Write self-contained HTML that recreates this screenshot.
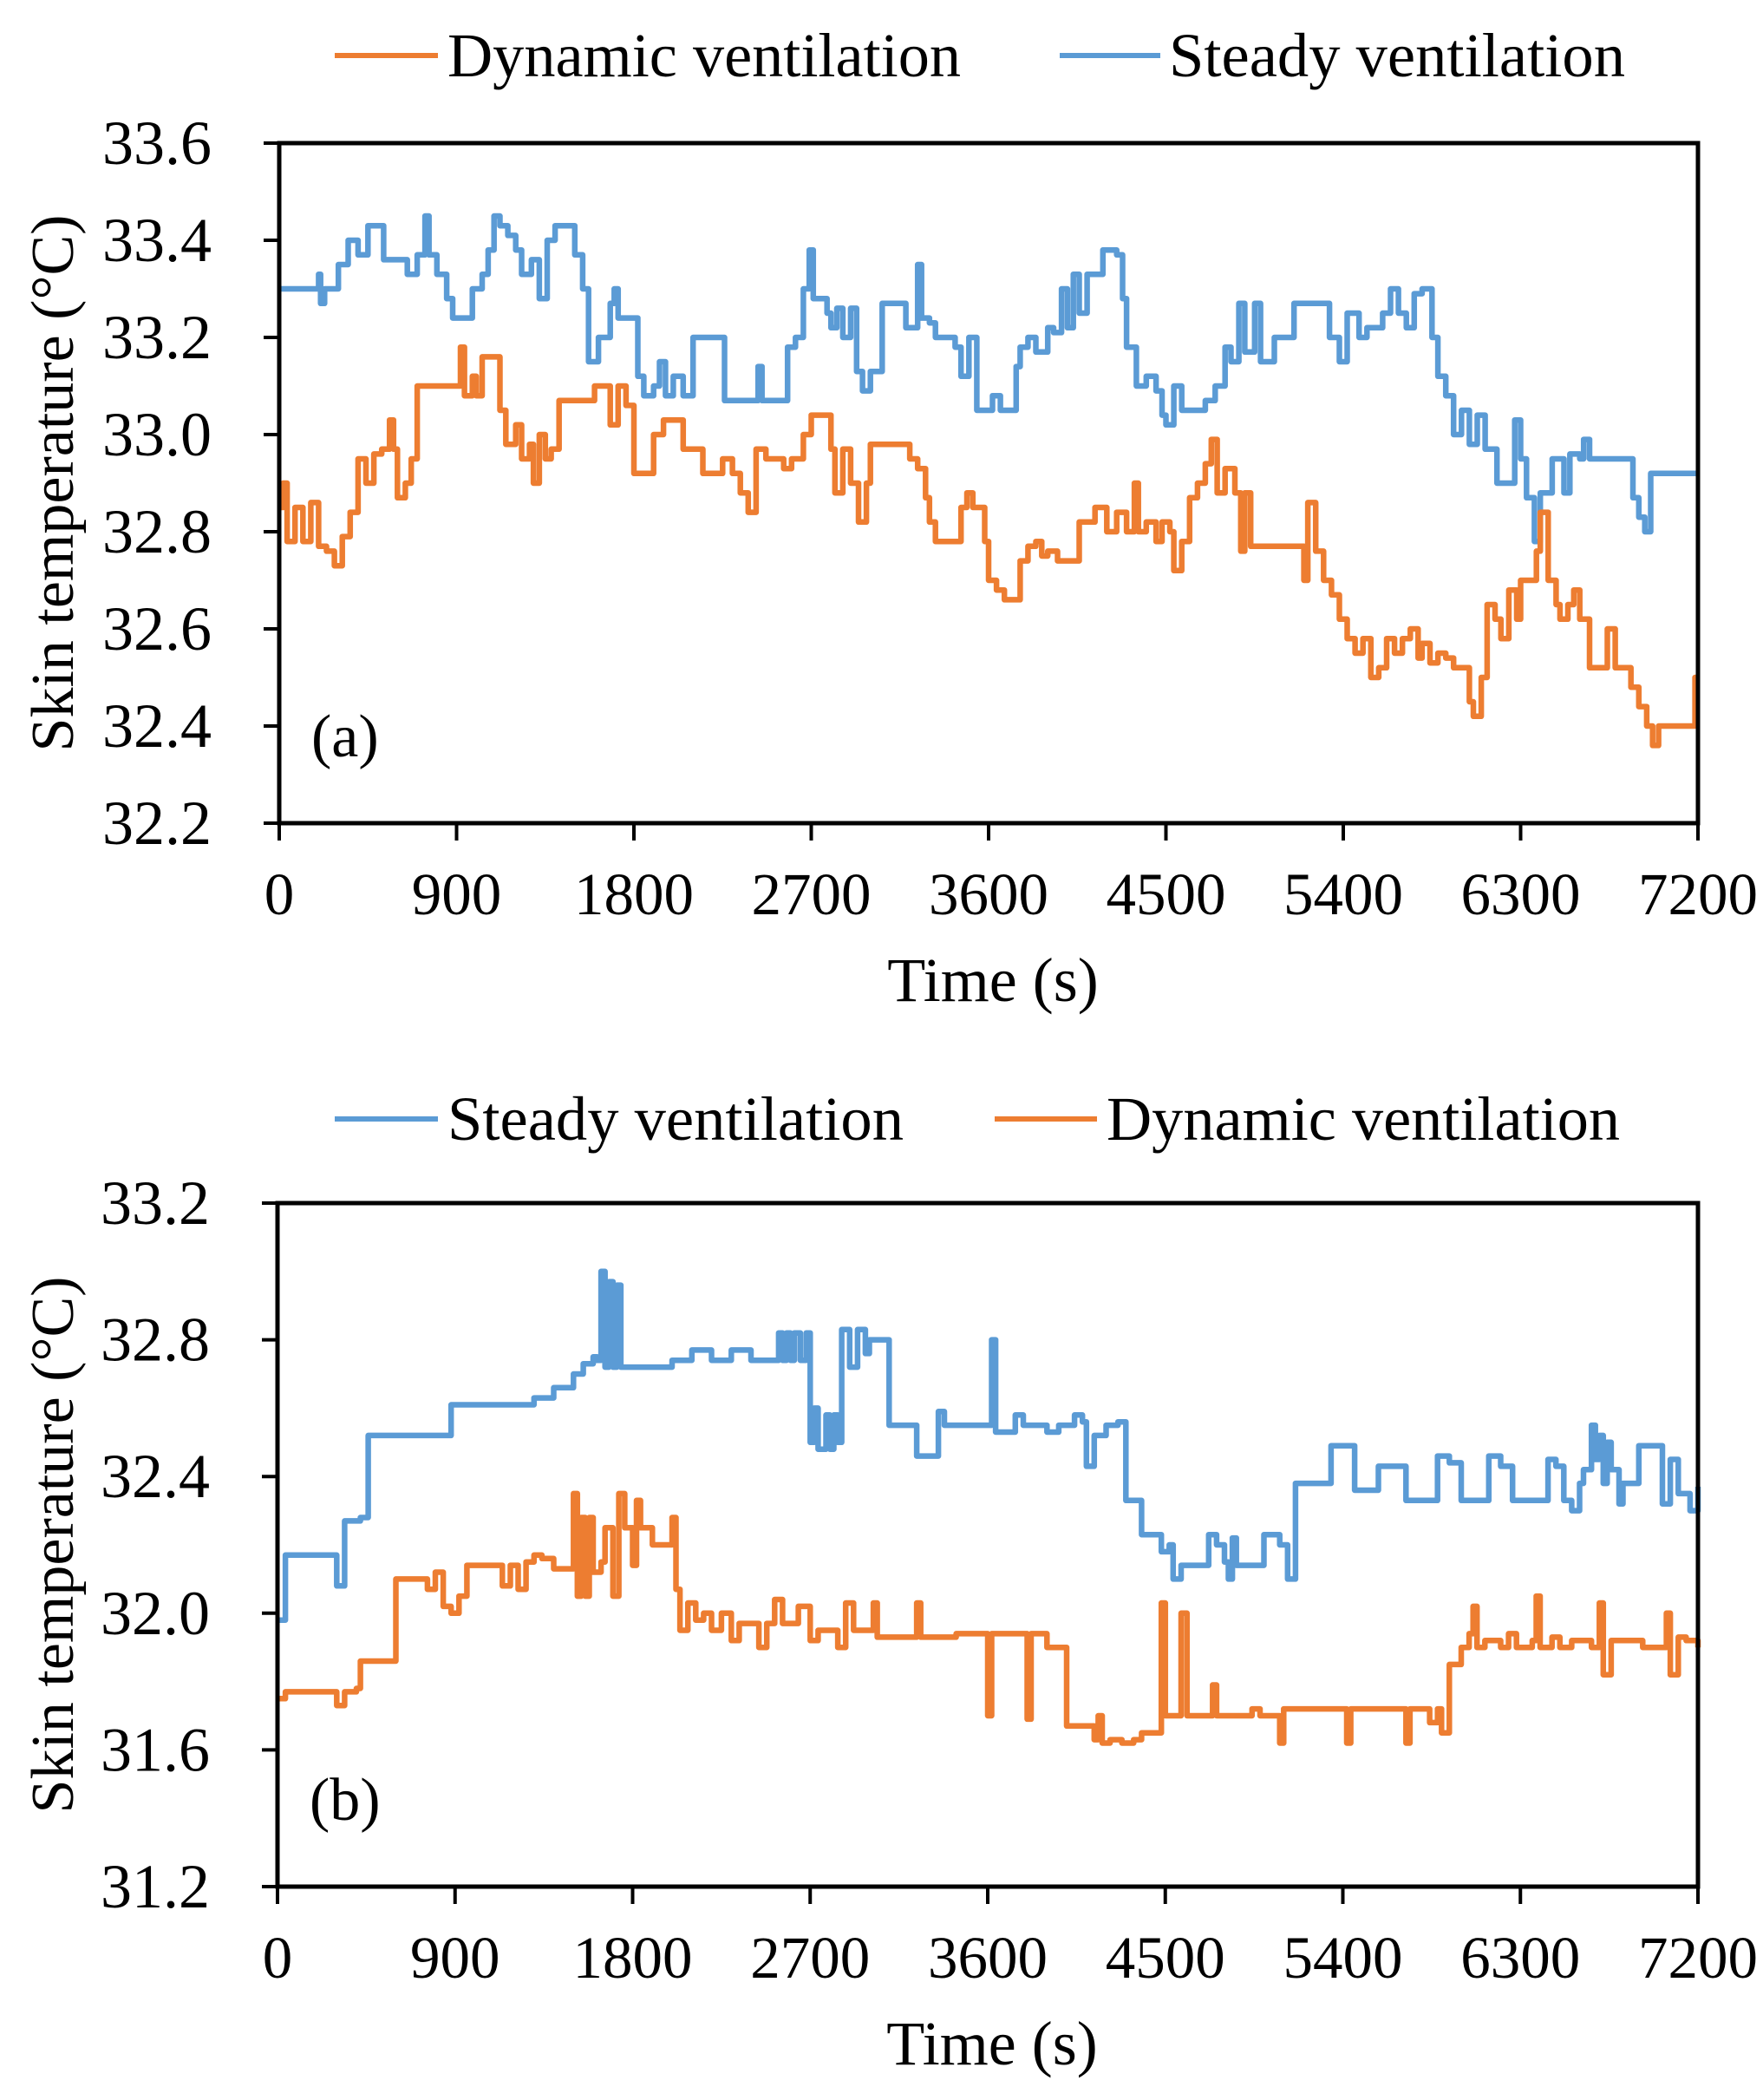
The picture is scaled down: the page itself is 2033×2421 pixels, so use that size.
<!DOCTYPE html>
<html><head><meta charset="utf-8">
<style>
html,body{margin:0;padding:0;background:#fff;}
svg{display:block;font-family:"Liberation Serif",serif;}
</style></head>
<body>
<svg id="chart" width="2033" height="2421" viewBox="0 0 2033 2421" xmlns="http://www.w3.org/2000/svg">
</svg>
<script>
const xTicks = [0,900,1800,2700,3600,4500,5400,6300,7200];
const yTicksA = [32.2,32.4,32.6,32.8,33.0,33.2,33.4,33.6];
const yTicksB = [31.2,31.6,32.0,32.4,32.8,33.2];

// [time (s), temperature (°C)]
const aSteady = [[0,33.30],[200,33.33],[210,33.27],[230,33.30],[300,33.35],[350,33.40],[400,33.37],[450,33.43],[530,33.36],[650,33.33],[700,33.37],[740,33.45],[760,33.37],[800,33.33],[850,33.28],[880,33.24],[980,33.30],[1030,33.33],[1060,33.38],[1090,33.45],[1120,33.43],[1160,33.41],[1200,33.38],[1230,33.33],[1280,33.36],[1320,33.28],[1360,33.40],[1400,33.43],[1500,33.37],[1540,33.30],[1570,33.15],[1620,33.20],[1680,33.27],[1700,33.30],[1720,33.24],[1820,33.12],[1850,33.08],[1900,33.10],[1930,33.15],[1960,33.08],[2000,33.12],[2050,33.08],[2100,33.20],[2260,33.07],[2430,33.14],[2450,33.07],[2580,33.18],[2620,33.20],[2660,33.30],[2690,33.38],[2710,33.28],[2780,33.25],[2800,33.22],[2830,33.26],[2860,33.20],[2900,33.26],[2930,33.13],[2960,33.09],[3000,33.13],[3060,33.27],[3180,33.22],[3240,33.35],[3260,33.24],[3300,33.23],[3330,33.20],[3430,33.18],[3460,33.12],[3500,33.20],[3540,33.05],[3620,33.08],[3660,33.05],[3740,33.14],[3760,33.18],[3800,33.20],[3840,33.17],[3900,33.22],[3930,33.21],[3970,33.30],[4000,33.22],[4030,33.33],[4060,33.25],[4100,33.33],[4180,33.38],[4250,33.37],[4280,33.28],[4300,33.18],[4350,33.10],[4400,33.12],[4450,33.09],[4480,33.04],[4500,33.02],[4540,33.10],[4580,33.05],[4700,33.07],[4750,33.10],[4800,33.18],[4830,33.15],[4870,33.27],[4900,33.17],[4950,33.27],[4980,33.15],[5050,33.20],[5150,33.27],[5330,33.20],[5380,33.15],[5420,33.25],[5480,33.20],[5520,33.22],[5600,33.25],[5640,33.30],[5680,33.25],[5720,33.22],[5760,33.29],[5800,33.30],[5850,33.20],[5880,33.12],[5920,33.08],[5960,33.00],[6000,33.05],[6040,32.98],[6080,33.04],[6120,32.97],[6180,32.90],[6270,33.03],[6300,32.95],[6330,32.87],[6370,32.78],[6400,32.88],[6460,32.95],[6520,32.88],[6550,32.96],[6600,32.95],[6620,32.99],[6650,32.95],[6870,32.87],[6900,32.83],[6930,32.80],[6960,32.92],[7200,32.92]];

const aDynamic = [[0,32.85],[20,32.90],[40,32.78],[80,32.85],[120,32.78],[160,32.86],[200,32.77],[240,32.76],[280,32.73],[320,32.79],[360,32.84],[400,32.95],[440,32.90],[480,32.96],[520,32.97],[560,33.03],[580,32.97],[600,32.87],[640,32.90],[670,32.95],[700,33.10],[920,33.18],[940,33.08],[980,33.12],[1000,33.08],[1030,33.16],[1120,33.05],[1150,32.98],[1200,33.02],[1230,32.95],[1270,32.98],[1290,32.90],[1320,33.00],[1350,32.95],[1380,32.97],[1420,33.07],[1600,33.10],[1680,33.02],[1720,33.10],[1760,33.06],[1800,32.92],[1900,33.00],[1950,33.03],[2050,32.97],[2150,32.92],[2250,32.95],[2300,32.92],[2340,32.88],[2380,32.84],[2420,32.97],[2470,32.95],[2560,32.93],[2600,32.95],[2660,33.00],[2700,33.04],[2800,32.97],[2820,32.88],[2860,32.97],[2900,32.90],[2940,32.82],[2980,32.90],[3000,32.98],[3200,32.95],[3240,32.93],[3280,32.87],[3300,32.82],[3330,32.78],[3460,32.85],[3490,32.88],[3520,32.85],[3580,32.78],[3600,32.70],[3640,32.68],[3680,32.66],[3760,32.74],[3800,32.77],[3840,32.78],[3870,32.75],[3900,32.76],[3950,32.74],[4060,32.82],[4140,32.85],[4200,32.80],[4250,32.84],[4300,32.80],[4340,32.90],[4360,32.80],[4400,32.82],[4450,32.78],[4480,32.82],[4520,32.80],[4540,32.72],[4580,32.78],[4620,32.87],[4660,32.90],[4700,32.94],[4730,32.99],[4760,32.88],[4800,32.93],[4850,32.88],[4880,32.76],[4900,32.88],[4930,32.77],[5200,32.70],[5220,32.86],[5260,32.76],[5300,32.70],[5340,32.67],[5380,32.62],[5420,32.58],[5460,32.55],[5500,32.58],[5540,32.50],[5580,32.52],[5620,32.58],[5660,32.55],[5700,32.58],[5740,32.60],[5780,32.54],[5800,32.57],[5840,32.53],[5880,32.55],[5920,32.54],[5960,32.52],[6040,32.45],[6060,32.42],[6100,32.50],[6130,32.65],[6170,32.62],[6200,32.58],[6240,32.68],[6280,32.62],[6300,32.70],[6380,32.76],[6400,32.84],[6440,32.70],[6480,32.65],[6500,32.62],[6540,32.65],[6570,32.68],[6600,32.62],[6650,32.52],[6740,32.60],[6780,32.52],[6860,32.48],[6900,32.44],[6940,32.40],[6970,32.36],[7000,32.40],[7185,32.50],[7200,32.50]];

const bSteady = [[0,31.98],[40,32.17],[300,32.08],[340,32.27],[420,32.28],[460,32.52],[880,32.61],[1300,32.63],[1400,32.66],[1500,32.70],[1550,32.73],[1600,32.75],[1620,32.74],[1640,33.00],[1660,32.72],[1680,32.97],[1700,32.72],[1720,32.96],[1740,32.72],[2000,32.74],[2100,32.77],[2200,32.74],[2300,32.77],[2400,32.74],[2540,32.82],[2560,32.74],[2580,32.82],[2600,32.74],[2620,32.82],[2650,32.74],[2680,32.82],[2700,32.50],[2720,32.60],[2740,32.48],[2780,32.58],[2800,32.48],[2820,32.58],[2840,32.50],[2860,32.83],[2900,32.72],[2940,32.83],[2980,32.76],[3000,32.80],[3100,32.55],[3240,32.46],[3350,32.59],[3380,32.55],[3620,32.80],[3640,32.53],[3740,32.58],[3780,32.55],[3900,32.53],[3960,32.55],[4040,32.58],[4080,32.56],[4100,32.43],[4140,32.52],[4200,32.55],[4260,32.56],[4300,32.33],[4380,32.23],[4480,32.18],[4520,32.20],[4540,32.10],[4580,32.14],[4720,32.23],[4760,32.20],[4800,32.15],[4820,32.10],[4840,32.22],[4860,32.14],[5000,32.23],[5080,32.20],[5120,32.10],[5160,32.38],[5340,32.49],[5460,32.36],[5580,32.43],[5720,32.33],[5880,32.46],[5940,32.44],[6000,32.33],[6140,32.46],[6200,32.43],[6260,32.33],[6440,32.45],[6480,32.43],[6520,32.33],[6560,32.30],[6600,32.38],[6620,32.42],[6660,32.55],[6680,32.45],[6700,32.52],[6720,32.38],[6740,32.50],[6760,32.42],[6800,32.32],[6820,32.38],[6900,32.49],[7020,32.32],[7060,32.45],[7100,32.35],[7160,32.30],[7200,32.37]];

const bDynamic = [[0,31.75],[40,31.77],[300,31.73],[340,31.77],[400,31.78],[420,31.86],[600,32.10],[760,32.07],[800,32.12],[840,32.02],[880,32.00],[920,32.05],[960,32.14],[1140,32.08],[1180,32.14],[1220,32.07],[1260,32.15],[1300,32.17],[1340,32.16],[1400,32.13],[1500,32.35],[1520,32.05],[1540,32.28],[1560,32.05],[1580,32.28],[1600,32.12],[1640,32.15],[1660,32.25],[1700,32.05],[1730,32.35],[1760,32.25],[1800,32.14],[1820,32.33],[1840,32.25],[1900,32.20],[2000,32.28],[2020,32.07],[2040,31.95],[2080,32.03],[2120,31.98],[2160,32.00],[2200,31.95],[2250,32.00],[2300,31.92],[2340,31.97],[2440,31.90],[2480,31.97],[2520,32.04],[2560,31.97],[2640,32.02],[2700,31.92],[2740,31.95],[2840,31.90],[2880,32.03],[2920,31.95],[3020,32.03],[3040,31.93],[3240,32.03],[3260,31.93],[3440,31.94],[3600,31.70],[3620,31.94],[3800,31.69],[3820,31.94],[3900,31.90],[4000,31.67],[4140,31.63],[4160,31.70],[4180,31.62],[4220,31.63],[4280,31.62],[4340,31.63],[4380,31.65],[4480,32.03],[4500,31.70],[4580,32.00],[4610,31.70],[4740,31.79],[4760,31.70],[4940,31.72],[4980,31.70],[5080,31.62],[5100,31.72],[5420,31.62],[5440,31.72],[5720,31.62],[5740,31.72],[5840,31.68],[5880,31.72],[5900,31.65],[5940,31.85],[6000,31.90],[6040,31.94],[6060,32.02],[6080,31.90],[6120,31.92],[6200,31.90],[6240,31.94],[6280,31.90],[6360,31.92],[6380,32.05],[6400,31.90],[6460,31.93],[6500,31.90],[6560,31.92],[6660,31.90],[6700,32.03],[6720,31.82],[6760,31.92],[6920,31.90],[7040,32.00],[7060,31.82],[7100,31.93],[7140,31.92],[7200,31.90]];

const ORANGE = '#ED7D31', BLUE = '#5B9BD5';
const NS = 'http://www.w3.org/2000/svg';
const svg = document.getElementById('chart');

function mk(tag, attrs, parent){
  const e = document.createElementNS(NS, tag);
  for (const k in attrs) e.setAttribute(k, attrs[k]);
  (parent||svg).appendChild(e);
  return e;
}

function panel(cfg){
  const g = mk('g', {});
  
  
  const L=cfg.left, R=cfg.right, T=cfg.top, B=cfg.bottom;
  const ymin=cfg.yTicks[0], ymax=cfg.yTicks[cfg.yTicks.length-1];
  const sx = t => L + (t/7200)*(R-L);
  const sy = v => B - (v-ymin)/(ymax-ymin)*(B-T);

  cfg.series.forEach(s => {
    const pts = s.data;
    let d = 'M' + sx(pts[0][0]).toFixed(1) + ' ' + sy(pts[0][1]).toFixed(1);
    for (let i=1;i<pts.length;i++){
      d += ' H' + sx(pts[i][0]).toFixed(1) + ' V' + sy(pts[i][1]).toFixed(1);
    }
    const p = mk('path', {d:d, fill:'none', stroke:s.color, 'stroke-width':6.5, 'stroke-linejoin':'round'}, g);
    
    
  });

  const fr = mk('rect', {x:L, y:T, width:R-L, height:B-T, fill:'none', stroke:'#000', 'stroke-width':5}, g);
  
  

  xTicks.forEach(t => {
    const x = sx(t);
    const tk = mk('line', {x1:x, x2:x, y1:B, y2:B+20, stroke:'#000', 'stroke-width':4}, g);
    
    
    const tx = mk('text', {x:x, y:B+105, 'font-size':69, 'text-anchor':'middle'}, g);
    tx.textContent = t;
    
    
  });
  cfg.yTicks.forEach(v => {
    const y = sy(v);
    const tk = mk('line', {x1:L-18, x2:L, y1:y, y2:y, stroke:'#000', 'stroke-width':4}, g);
    
    
    const tx = mk('text', {x:L-78, y:y+24, 'font-size':72, 'text-anchor':'end'}, g);
    tx.textContent = v.toFixed(1);
    
    
  });

  const xt = mk('text', {x:(L+R)/2 + 5, y:B+205, 'font-size':72, 'text-anchor':'middle'}, g);
  xt.textContent = 'Time (s)';
  
  
  const cy = (T+B)/2;
  const yt = mk('text', {x:0, y:0, 'font-size':70, 'text-anchor':'middle', transform:'translate(84,'+cy+') rotate(-90)'}, g);
  yt.textContent = 'Skin temperature (°C)';
  
  

  const pl = mk('text', {x:L+37, y:cfg.labelY, 'font-size':70}, g);
  pl.textContent = cfg.label;
  
  

  cfg.legend.forEach(le => {
    const lg = mk('g', {}, g);
    
    
    mk('line', {x1:le.x1, x2:le.x2, y1:cfg.legendY, y2:cfg.legendY, stroke:le.color, 'stroke-width':6}, lg);
    const t = mk('text', {x:le.tx, y:cfg.legendY+24, 'font-size':72, textLength:le.tw, lengthAdjust:'spacingAndGlyphs'}, lg);
    t.textContent = le.text;
  });
}

panel({
  name:'panel-a', left:322, right:1958, top:165, bottom:949, yTicks:yTicksA, label:'(a)', labelY:872, legendY:64,
  series:[{id:'steady-ventilation-line', data:aSteady, color:BLUE},
          {id:'dynamic-ventilation-line', data:aDynamic, color:ORANGE}],
  legend:[{x1:386,x2:505,tx:516,tw:592,color:ORANGE,text:'Dynamic ventilation'},
          {x1:1222,x2:1338,tx:1348,tw:526,color:BLUE,text:'Steady ventilation'}]
});
panel({
  name:'panel-b', left:320, right:1958, top:1387, bottom:2175, yTicks:yTicksB, label:'(b)', labelY:2098, legendY:1290,
  series:[{id:'steady-ventilation-line', data:bSteady, color:BLUE},
          {id:'dynamic-ventilation-line', data:bDynamic, color:ORANGE}],
  legend:[{x1:386,x2:505,tx:516,tw:526,color:BLUE,text:'Steady ventilation'},
          {x1:1147,x2:1265,tx:1276,tw:592,color:ORANGE,text:'Dynamic ventilation'}]
});
</script>
</body></html>
